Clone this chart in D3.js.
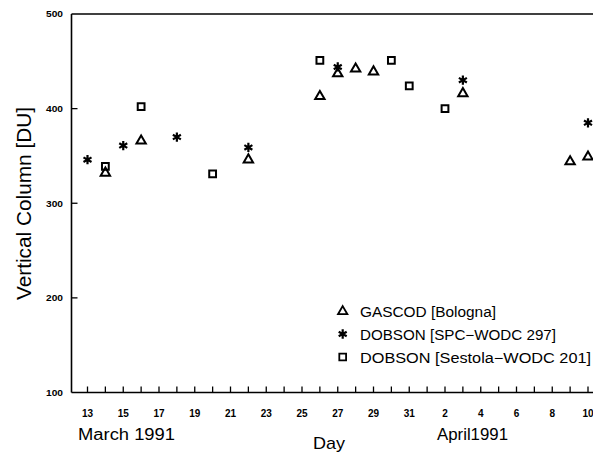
<!DOCTYPE html>
<html><head><meta charset="utf-8">
<script src="https://cdn.jsdelivr.net/npm/d3@7"></script>
<style>body{margin:0;background:#fff}svg{display:block}</style>
</head><body>
<script>
// ---- data ----
const gascodDates = ["1991-03-14","1991-03-16","1991-03-22","1991-03-26","1991-03-27","1991-03-28","1991-03-29","1991-04-03","1991-04-09","1991-04-10"];
const gascodValues = [332, 366, 346, 413, 437, 442, 439, 416, 344, 349];
const spcDates = ["1991-03-13","1991-03-15","1991-03-18","1991-03-22","1991-03-27","1991-04-03","1991-04-10"];
const spcValues = [346, 361, 370, 359, 444, 430, 385];
const sestolaDates = ["1991-03-14","1991-03-16","1991-03-20","1991-03-26","1991-03-30","1991-03-31","1991-04-02"];
const sestolaValues = [339, 402, 331, 451, 451, 424, 400];
const yTicks = [100, 200, 300, 400, 500];
const xLabelDates = ["1991-03-13","1991-03-15","1991-03-17","1991-03-19","1991-03-21","1991-03-23","1991-03-25","1991-03-27","1991-03-29","1991-03-31","1991-04-02","1991-04-04","1991-04-06","1991-04-08","1991-04-10"];
const xLabels = ["13","15","17","19","21","23","25","27","29","31","2","4","6","8","10"];
const legendLabels = ["GASCOD [Bologna]", "DOBSON [SPC\u2212WODC 297]", "DOBSON [Sestola\u2212WODC 201]"];

const W = 593, H = 454;
const svg = d3.select("body").append("svg").attr("width", W).attr("height", H);
const p = d3.utcParse("%Y-%m-%d");

const x = d3.scaleUtc().domain([p("1991-03-13"), p("1991-04-10")]).range([87.5, 588]);
const y = d3.scaleLinear().domain([100, 500]).range([392.5, 14]);
const axisX0 = 71.5, axisX1 = 593;

const g = svg.append("g").attr("stroke", "#000").attr("fill", "none");
// frame lines
g.append("line").attr("x1", axisX0).attr("x2", axisX0).attr("y1", y(500)).attr("y2", y(100)).attr("stroke-width", 1.6);
g.append("line").attr("x1", axisX0).attr("x2", axisX1).attr("y1", y(500)).attr("y2", y(500)).attr("stroke-width", 1.6);
g.append("line").attr("x1", axisX0).attr("x2", axisX1).attr("y1", y(100)).attr("y2", y(100)).attr("stroke-width", 1.6);

// x ticks (daily, pointing up)
const dayTicks = d3.utcDay.range(p("1991-03-13"), p("1991-04-11"));
g.selectAll(".xt").data(dayTicks).join("line")
  .attr("x1", d => x(d)).attr("x2", d => x(d))
  .attr("y1", y(100)).attr("y2", y(100) - 6).attr("stroke-width", 1.3);

// y ticks (pointing right)
g.selectAll(".yt").data(yTicks.slice(1, 4)).join("line")
  .attr("x1", axisX0).attr("x2", axisX0 + 6)
  .attr("y1", d => y(d)).attr("y2", d => y(d)).attr("stroke-width", 1.3);

const font = "'Liberation Sans', Arial, sans-serif";
// y tick labels
svg.selectAll(".yl").data(yTicks).join("text")
  .attr("x", 63).attr("y", d => y(d)).attr("dy", "0.35em")
  .attr("text-anchor", "end").attr("font-family", font).attr("font-weight", "bold")
  .attr("font-size", 9.5).attr("textLength", 17).attr("lengthAdjust", "spacingAndGlyphs")
  .text(d => d);

// x tick labels
svg.selectAll(".xl").data(xLabelDates).join("text")
  .attr("x", d => x(p(d))).attr("y", 417)
  .attr("text-anchor", "middle").attr("font-family", font).attr("font-weight", "bold")
  .attr("font-size", 10).text((d, i) => xLabels[i]);

// axis titles
svg.append("text").attr("transform", "translate(31,203.5) rotate(-90)")
  .attr("text-anchor", "middle").attr("font-family", font).attr("font-size", 20)
  .attr("textLength", 193).attr("lengthAdjust", "spacingAndGlyphs")
  .text("Vertical Column [DU]");
svg.append("text").attr("x", 78).attr("y", 440).attr("font-family", font).attr("font-size", 16)
  .attr("textLength", 97).attr("lengthAdjust", "spacingAndGlyphs").text("March  1991");
svg.append("text").attr("x", 437).attr("y", 440).attr("font-family", font).attr("font-size", 16)
  .attr("textLength", 71).attr("lengthAdjust", "spacingAndGlyphs").text("April1991");
svg.append("text").attr("x", 313).attr("y", 449).attr("font-family", font).attr("font-size", 17)
  .attr("textLength", 32).attr("lengthAdjust", "spacingAndGlyphs").text("Day");

// markers
const symTri = d3.symbol().type(d3.symbolTriangle).size(38);
const symSq = d3.symbol().type(d3.symbolSquare).size(46);
const symAst = d3.symbol().type(d3.symbolAsterisk).size(60);

function plot(dates, values, sym, cls, sw) {
  svg.selectAll("." + cls).data(dates.map((d, i) => ({d: p(d), v: values[i]}))).join("path")
    .attr("class", cls)
    .attr("transform", d => `translate(${x(d.d)},${y(d.v)})`)
    .attr("d", sym).attr("fill", "none").attr("stroke", "#000").attr("stroke-width", sw);
}
plot(sestolaDates, sestolaValues, symSq, "sq", 2);
plot(gascodDates, gascodValues, symTri, "tri", 2);
plot(spcDates, spcValues, symAst, "ast", 2.2);

// legend
const legSyms = [symTri, symAst, symSq];
const legLens = [136, 196, 231];
const legY = [311.5, 334, 357];
const leg = svg.append("g");
legendLabels.forEach((t, i) => {
  leg.append("path").attr("transform", `translate(342.7,${legY[i]})`).attr("d", legSyms[i])
    .attr("fill", "none").attr("stroke", "#000").attr("stroke-width", i === 1 ? 2.2 : 1.8);
  leg.append("text").attr("x", 360).attr("y", legY[i] + 5.5).attr("font-family", font)
    .attr("font-size", 14).attr("textLength", legLens[i]).attr("lengthAdjust", "spacingAndGlyphs").text(t);
});
</script>
</body></html>
